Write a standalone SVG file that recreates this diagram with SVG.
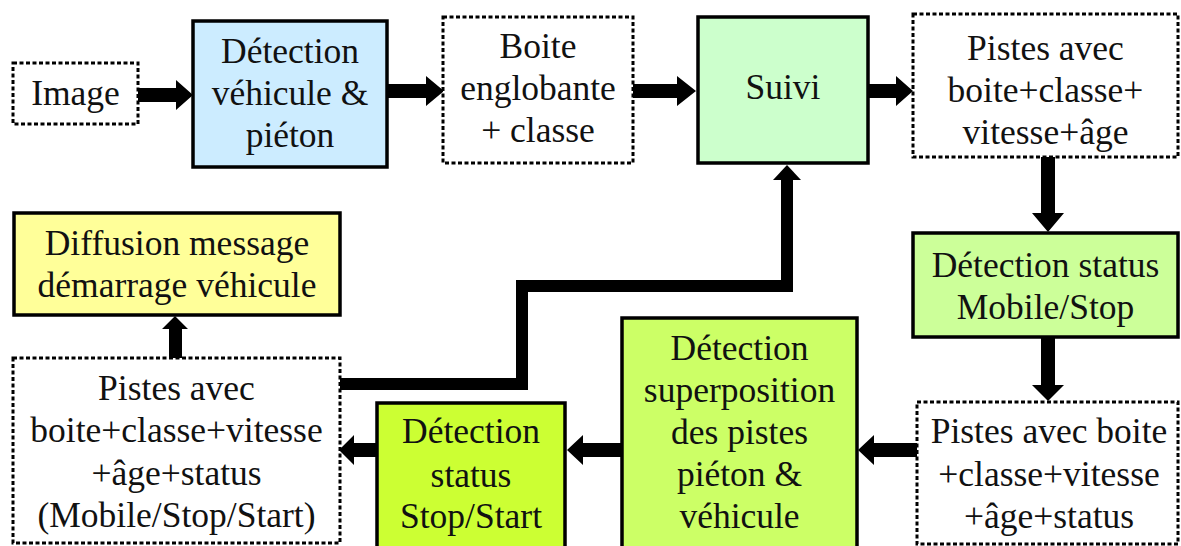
<svg xmlns="http://www.w3.org/2000/svg" width="1181" height="546" viewBox="0 0 1181 546">
<style>
.box{stroke:#000;stroke-width:3.5}
.dot{fill:#fff;stroke:#000;stroke-width:3;stroke-dasharray:4 2.5}
text{font-family:"Liberation Serif","Times New Roman",serif;font-size:35.5px;fill:#111;text-anchor:middle}
.arr{fill:#000}
</style>
<rect width="1181" height="546" fill="#fff"/>
<g id="connectors">
<polygon class="arr" points="138,88 176,88 176,80 193,95 176,110 176,102 138,102"/>
<polygon class="arr" points="387,84 426,84 426,76 444,91 426,106 426,98 387,98"/>
<polygon class="arr" points="633,84 677,84 677,76 696,91 677,106 677,98 633,98"/>
<polygon class="arr" points="868,84 896,84 896,76 913,91 896,106 896,98 868,98"/>
<polygon class="arr" points="1041,157 1055,157 1055,213 1064,213 1048,232 1032,213 1041,213"/>
<polygon class="arr" points="1041,337 1055,337 1055,385 1064,385 1048,401 1032,385 1041,385"/>
<polygon class="arr" points="917,443 874,443 874,435 858,450 874,465 874,457 917,457"/>
<polygon class="arr" points="622,443 583,443 583,435 567,450 583,465 583,457 622,457"/>
<polygon class="arr" points="377,443 354,443 354,435 339,450 354,465 354,457 377,457"/>
<polygon class="arr" points="169,358 182,358 182,329 188,329 175,316 162,329 169,329"/>
<polyline points="340,384 522,384 522,286 787,286 787,178" fill="none" stroke="#000" stroke-width="12" stroke-linejoin="miter"/>
<polygon class="arr" points="773,180 801,180 787,165"/>
</g>
<g id="n-image">
<rect class="dot" x="13" y="63" width="125" height="61"/>
<text x="75.5" y="105">Image</text>
</g>
<g id="n-detection">
<rect class="box" x="193" y="21" width="194" height="146" fill="#CCECFF"/>
<text x="290" y="63">Détection</text>
<text x="290" y="105">véhicule &amp;</text>
<text x="290" y="147">piéton</text>
</g>
<g id="n-boite">
<rect class="dot" x="443" y="17" width="190" height="146"/>
<text x="538" y="58">Boite</text>
<text x="538" y="100">englobante</text>
<text x="538" y="142">+ classe</text>
</g>
<g id="n-suivi">
<rect class="box" x="698" y="17" width="170" height="146" fill="#CCFFCC"/>
<text x="783" y="99">Suivi</text>
</g>
<g id="n-pistes1">
<rect class="dot" x="913" y="14" width="265" height="143"/>
<text x="1045.5" y="60">Pistes avec</text>
<text x="1045.5" y="102">boite+classe+</text>
<text x="1045.5" y="144">vitesse+âge</text>
</g>
<g id="n-mobilestop">
<rect class="box" x="913" y="233" width="265" height="104" fill="#CCFF99"/>
<text x="1045.5" y="277">Détection status</text>
<text x="1045.5" y="319">Mobile/Stop</text>
</g>
<g id="n-pistes2">
<rect class="dot" x="917" y="402" width="261" height="142"/>
<text x="1049" y="443">Pistes avec boite</text>
<text x="1049" y="486">+classe+vitesse</text>
<text x="1049" y="528">+âge+status</text>
</g>
<g id="n-superposition">
<rect class="box" x="622" y="318" width="235" height="232" fill="#CCFF66"/>
<text x="739.5" y="360">Détection</text>
<text x="739.5" y="402">superposition</text>
<text x="739.5" y="444">des pistes</text>
<text x="739.5" y="486">piéton &amp;</text>
<text x="739.5" y="528">véhicule</text>
</g>
<g id="n-stopstart">
<rect class="box" x="377" y="403" width="188" height="145" fill="#CCFF33"/>
<text x="471" y="443">Détection</text>
<text x="471" y="487">status</text>
<text x="471" y="528">Stop/Start</text>
</g>
<g id="n-pistes3">
<rect class="dot" x="13" y="358" width="327" height="185"/>
<text x="176.5" y="400">Pistes avec</text>
<text x="176.5" y="442">boite+classe+vitesse</text>
<text x="176.5" y="485">+âge+status</text>
<text x="176.5" y="527">(Mobile/Stop/Start)</text>
</g>
<g id="n-diffusion">
<rect class="box" x="14" y="213" width="326" height="102" fill="#FFFF99"/>
<text x="177" y="255">Diffusion message</text>
<text x="177" y="297">démarrage véhicule</text>
</g>
</svg>
